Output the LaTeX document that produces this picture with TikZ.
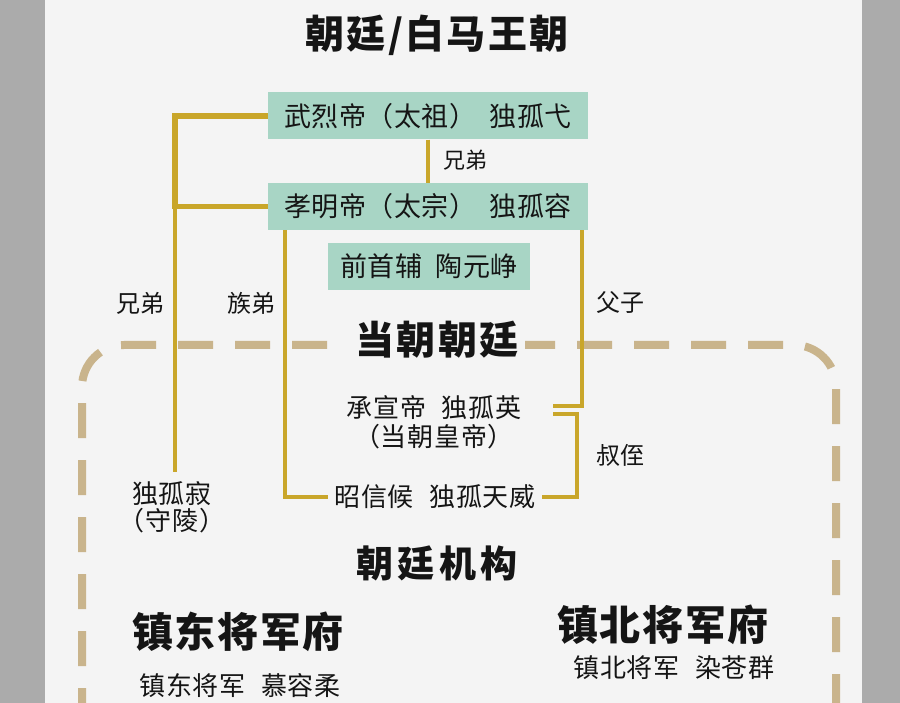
\documentclass[tikz,border=0pt]{standalone}
\usepackage{fontspec}
\newfontfamily\cjk{Noto Sans CJK SC}
\definecolor{bgc}{HTML}{F4F4F4}
\definecolor{edgegray}{HTML}{ABABAB}
\definecolor{boxteal}{HTML}{A8D5C5}
\definecolor{yl}{HTML}{C9A62A}
\definecolor{framecol}{HTML}{C9B48C}
\definecolor{ink}{HTML}{151515}
\tikzset{
  namebox/.style={fill=boxteal, minimum height=47pt, inner sep=0pt, font=\cjk\fontsize{27}{30}\selectfont\addfontfeature{LetterSpace=2}, text=ink},
  person/.style={font=\cjk\fontsize{26}{29}\selectfont\addfontfeature{LetterSpace=3}, text=ink, align=center, inner sep=6pt},
  rellabel/.style={font=\cjk\fontsize{22}{24}\selectfont, text=ink, inner sep=0pt},
  headtext/.style={font=\cjk\bfseries\fontsize{39}{42}\selectfont\addfontfeature{LetterSpace=6}, text=ink, inner sep=2pt},
  yline/.style={draw=yl, line width=3.5pt},
  thickyline/.style={draw=yl, line width=5.5pt},
  dashframe/.style={draw=framecol, line width=8pt, dash pattern=on 35pt off 22pt, rounded corners=42pt}
}
\begin{document}
\begin{tikzpicture}[x=1pt,y=-1pt]
\fill[edgegray] (0,0) rectangle (900,703);
\fill[bgc] (45,0) rectangle (862,703);
\useasboundingbox (0,0) rectangle (900,703);

% dashed frame
\draw[dashframe] (82,780) -- (82,345) -- (836,345) -- (836,780);

% title
\node[headtext] (title) at (437,35) {朝廷/白马王朝};

% boxes
\node[namebox, minimum width=320pt] (box1) at (428,116) {武烈帝（太祖）\hspace{0.5em}独孤弋};
\node[namebox, minimum width=320pt] (box2) at (428,206.5) {孝明帝（太宗）\hspace{0.5em}独孤容};
\node[namebox, minimum width=202pt] (box3) at (429,266.5) {前首辅\hspace{0.5em}陶元峥};

% people
\node[person] (ying) at (434,422) {承宣帝\hspace{0.6em}独孤英\\（当朝皇帝）};
\node[person] (zhao) at (435,497) {昭信候\hspace{0.6em}独孤天威};
\node[person, font=\cjk\fontsize{26}{27}\selectfont\addfontfeature{LetterSpace=3}] (ji) at (172,507) {独孤寂\\（守陵）};

% relation labels
\node[rellabel] (r1) at (465,160) {兄弟};
\node[rellabel, font=\cjk\fontsize{24}{26}\selectfont] (r2) at (140,303) {兄弟};
\node[rellabel, font=\cjk\fontsize{24}{26}\selectfont] (r3) at (251,303) {族弟};
\node[rellabel, font=\cjk\fontsize{24}{26}\selectfont] (r4) at (620,303) {父子};
\node[rellabel, font=\cjk\fontsize{24}{26}\selectfont] (r5) at (620,455) {叔侄};

% coordinates for connector bends
\coordinate (lx) at (175,0);
\coordinate (mx) at (285,0);
\coordinate (rx) at (582,0);
\coordinate (rx2) at (577,0);
\coordinate (u1) at (553,406);
\coordinate (u2) at (553,414);
\coordinate (jitop) at (175,472);

% connectors
\draw[thickyline] (box1.west) -- (lx |- box1.west) -- (lx |- box2.west) -- (box2.west);
\draw[yline] (lx |- box2.west) -- (jitop);
\draw[yline, line width=4.5pt] (box1.south) -- (box2.north);
\draw[yline] (mx |- box2.south) -- (mx |- zhao.west) -- (zhao.west);
\draw[yline] (rx |- box2.south) |- (u1);
\draw[yline] (u2) -| (rx2 |- zhao.east) -- (zhao.east);

% section heads
\node[headtext, fill=bgc, inner sep=6pt] (court) at (437,340) {当朝朝廷};
\node[headtext, font=\cjk\bfseries\fontsize{37}{40}\selectfont\addfontfeature{LetterSpace=12}] (org) at (437,563) {朝廷机构};
\node[headtext, font=\cjk\bfseries\fontsize{41}{44}\selectfont\addfontfeature{LetterSpace=4}] (east) at (238,632) {镇东将军府};
\node[headtext, font=\cjk\bfseries\fontsize{41}{44}\selectfont\addfontfeature{LetterSpace=4}] (north) at (663,625) {镇北将军府};
\node[person] (northgen) at (674,668) {镇北将军\hspace{0.6em}染苍群};
\node[person] (eastgen) at (240,686) {镇东将军\hspace{0.6em}慕容柔};
\end{tikzpicture}
\end{document}
